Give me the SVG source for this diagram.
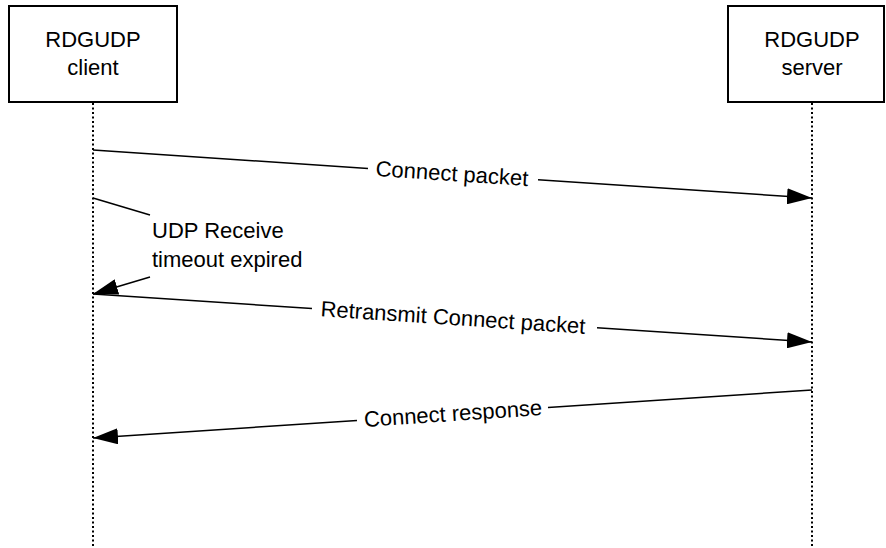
<svg xmlns="http://www.w3.org/2000/svg" width="886" height="548" viewBox="0 0 886 548">
<style>
.box{fill:#fff;stroke:#000;stroke-width:2}
.life{stroke:#000;stroke-width:2;stroke-dasharray:2,2.5;fill:none}
.msg{stroke:#000;stroke-width:1.5;fill:none}
text{font-family:"Liberation Sans",Arial,sans-serif;font-size:22px;fill:#000}
.c{text-anchor:middle}
</style>
<defs>
<marker id="ah" markerUnits="userSpaceOnUse" viewBox="0 0 25 16" markerWidth="25" markerHeight="16" refX="25" refY="8" orient="auto">
<path d="M0,0 L25,8 L0,16 Z" fill="#000"/>
</marker>
</defs>
<g id="client">
<rect class="box" x="9" y="6" width="168" height="96"/>
<text class="c" x="93" y="47">RDGUDP</text>
<text class="c" x="93" y="75">client</text>
<line class="life" x1="93" y1="103" x2="93" y2="548"/>
</g>
<g id="server">
<rect class="box" x="728" y="6" width="156" height="96"/>
<text class="c" x="812" y="47">RDGUDP</text>
<text class="c" x="812" y="75">server</text>
<line class="life" x1="812" y1="103" x2="812" y2="548"/>
</g>
<g id="connectors">
<line class="msg" x1="93" y1="150" x2="368" y2="168.4"/>
<line class="msg" x1="538" y1="179.7" x2="812" y2="198" marker-end="url(#ah)"/>
<text class="c" transform="translate(452,174) rotate(3.82)" y="7">Connect packet</text>
<line class="msg" x1="93" y1="198" x2="150" y2="215"/>
<text x="152" y="238">UDP Receive</text>
<text x="152" y="267">timeout expired</text>
<line class="msg" x1="150" y1="277" x2="93" y2="294" marker-end="url(#ah)"/>
<line class="msg" x1="93" y1="294" x2="312" y2="308.6"/>
<line class="msg" x1="597" y1="327.7" x2="812" y2="342" marker-end="url(#ah)"/>
<text class="c" transform="translate(453,318) rotate(3.82)" y="7">Retransmit Connect packet</text>
<line class="msg" x1="812" y1="390" x2="548" y2="407.6"/>
<line class="msg" x1="357" y1="420.4" x2="93" y2="438" marker-end="url(#ah)"/>
<text class="c" transform="translate(453,414) rotate(-3.82)" y="7">Connect response</text>
</g>
</svg>
